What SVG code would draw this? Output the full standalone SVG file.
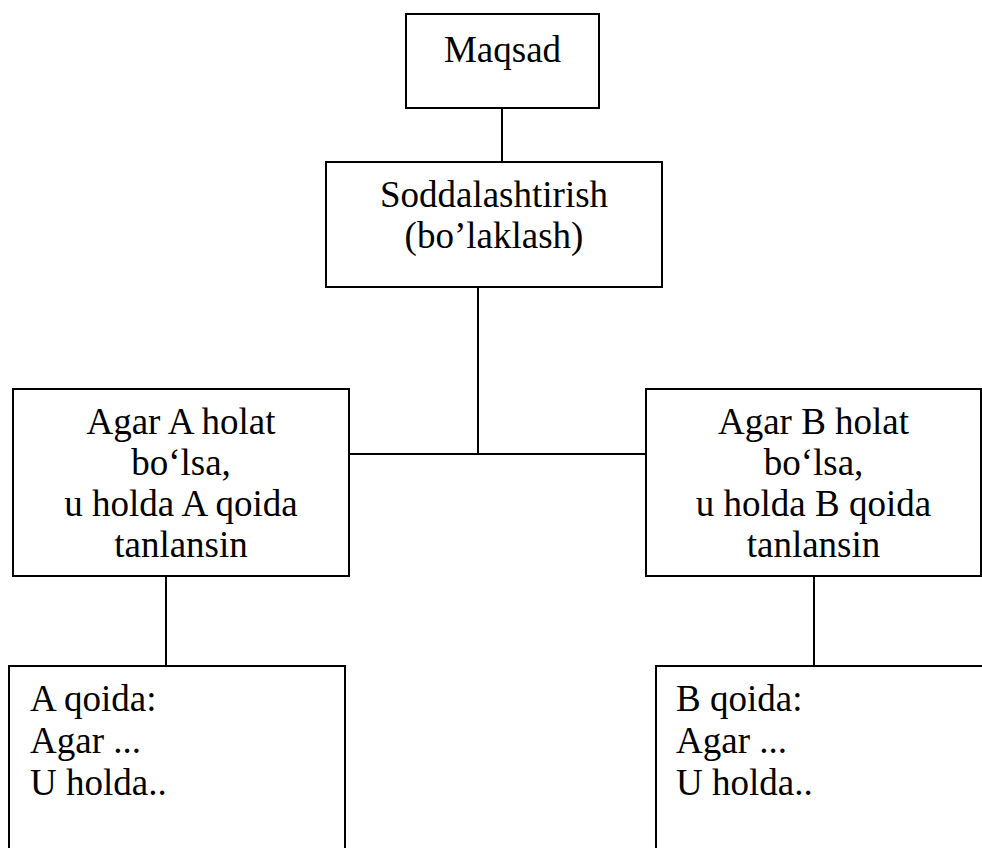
<svg xmlns="http://www.w3.org/2000/svg" width="982" height="848" viewBox="0 0 982 848">
<style>
.box{fill:#fff;stroke:#000;stroke-width:2}
.ln{stroke:#000;stroke-width:2;fill:none}
text{font-family:"Liberation Serif","Times New Roman",serif;font-size:37px;fill:#000}
.c{text-anchor:middle}
</style>
<rect width="982" height="848" fill="#fff"/>
<g id="connectors">
<line class="ln" x1="502" y1="108" x2="502" y2="162"/>
<line class="ln" x1="478" y1="287" x2="478" y2="454"/>
<line class="ln" x1="349" y1="454" x2="646" y2="454"/>
<line class="ln" x1="166" y1="576" x2="166" y2="666"/>
<line class="ln" x1="814" y1="576" x2="814" y2="666"/>
</g>
<g id="maqsad">
<rect class="box" x="406" y="14" width="193" height="94"/>
<text class="c" x="502.5" y="62">Maqsad</text>
</g>
<g id="soddalashtirish">
<rect class="box" x="326" y="162" width="336" height="125"/>
<text class="c" x="494" y="207">Soddalashtirish</text>
<text class="c" x="494" y="248">(bo’laklash)</text>
</g>
<g id="agarA">
<rect class="box" x="13" y="389" width="336" height="187"/>
<text class="c" x="181" y="434">Agar A holat</text>
<text class="c" x="181" y="475">bo‘lsa,</text>
<text class="c" x="181" y="516">u holda A qoida</text>
<text class="c" x="181" y="557">tanlansin</text>
</g>
<g id="agarB">
<rect class="box" x="646" y="389" width="335" height="187"/>
<text class="c" x="813.5" y="434">Agar B holat</text>
<text class="c" x="813.5" y="475">bo‘lsa,</text>
<text class="c" x="813.5" y="516">u holda B qoida</text>
<text class="c" x="813.5" y="557">tanlansin</text>
</g>
<g id="qoidaA">
<rect class="box" x="9" y="666" width="336" height="200"/>
<text x="30" y="711">A qoida:</text>
<text x="30" y="753">Agar ...</text>
<text x="30" y="795">U holda..</text>
</g>
<g id="qoidaB">
<rect class="box" x="656" y="666" width="340" height="200"/>
<text x="676" y="711">B qoida:</text>
<text x="676" y="753">Agar ...</text>
<text x="676" y="795">U holda..</text>
</g>
</svg>
